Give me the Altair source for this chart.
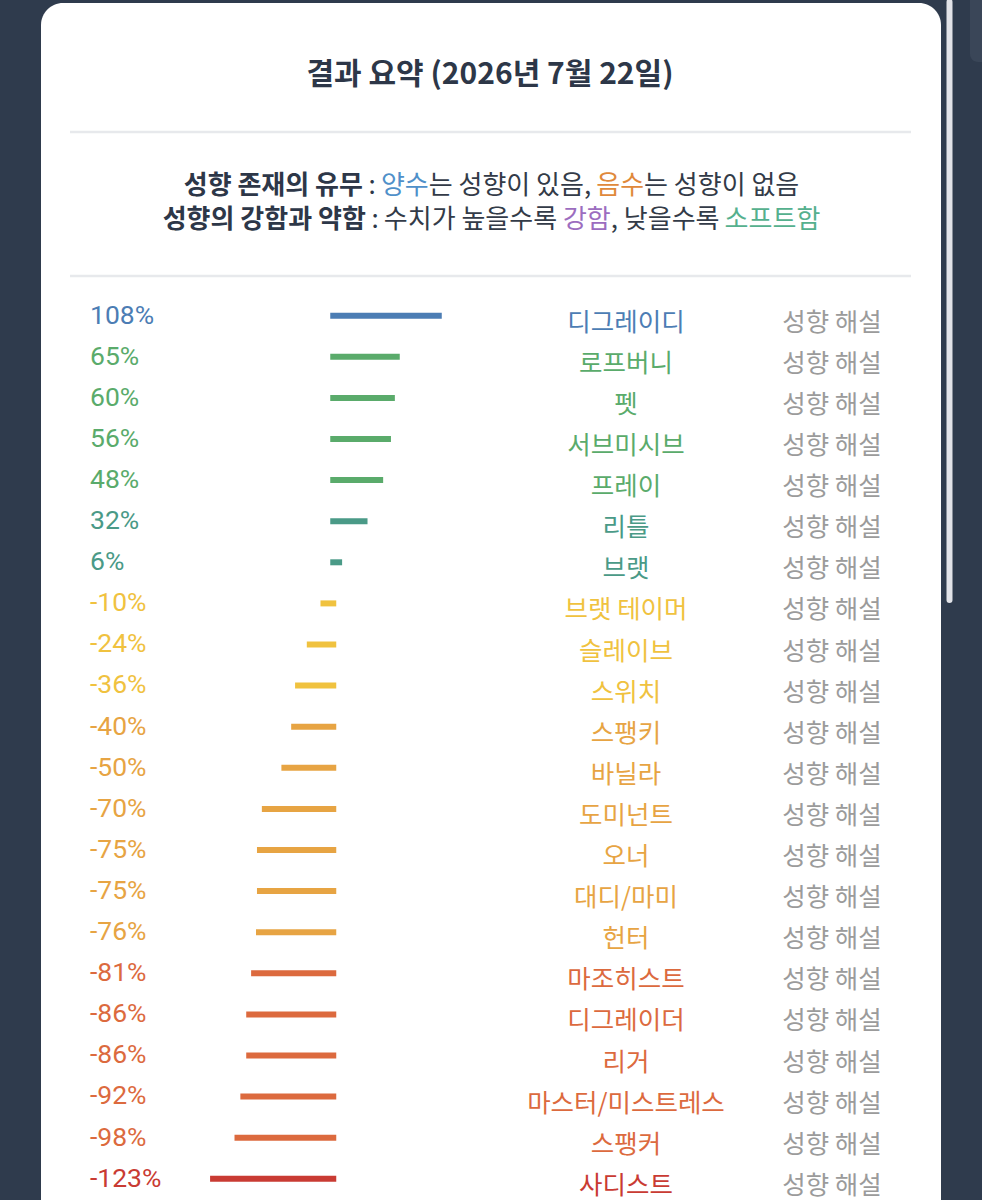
import altair as alt
import pandas as pd

# ---- data ----
names = ["디그레이디", "로프버니", "펫", "서브미시브", "프레이", "리틀", "브랫",
         "브랫 테이머", "슬레이브", "스위치", "스팽키", "바닐라", "도미넌트", "오너",
         "대디/마미", "헌터", "마조히스트", "디그레이더", "리거", "마스터/미스트레스",
         "스팽커", "사디스트"]
pcts = [108, 65, 60, 56, 48, 32, 6, -10, -24, -36, -40, -50, -70, -75, -75, -76,
        -81, -86, -86, -92, -98, -123]
title_text = "결과 요약 (2026년 7월 22일)"
detail_text = "성향 해설"

# ---- style ----
KR = "Noto Sans CJK KR"
BG = "#2f3b4d"
DARK = "#2d3748"
tier_breaks = [-100, -80, -38, 0, 40, 100]
tier_colors = ["#c93b33", "#dc6a3e", "#e7a443", "#f0c23f", "#4a9a87", "#5aab6b", "#4c7db4"]

df = pd.DataFrame({"name": names, "pct": pcts, "idx": list(range(len(names)))})

# row i centre at 315.7 + 41.1*i px
y0, step = 315.7, 41.1
yscale = alt.Scale(domain=[-y0 / step, (1200 - y0) / step], range=[0, 1200], nice=False, zero=False)
# zero at 333.25 px, 0.977 px per percent
zx, k = 333.25, 0.977
xscale = alt.Scale(domain=[-zx / k, (982 - zx) / k], nice=False, zero=False)
cscale = alt.Scale(type="threshold", domain=tier_breaks, range=tier_colors)

one = pd.DataFrame({"k": [0]})

card = alt.Chart(one).mark_rect(color="#ffffff", cornerRadius=22).encode(
    x=alt.value(41), x2=alt.value(941), y=alt.value(3), y2=alt.value(1260))
scroll = alt.Chart(one).mark_rule(color="#e2e3e8", strokeWidth=6, strokeCap="round").encode(
    x=alt.value(949.5), y=alt.value(2), y2=alt.value(600))
panel = alt.Chart(one).mark_rect(color="#3a4658", cornerRadius=8).encode(
    x=alt.value(970), x2=alt.value(990), y=alt.value(-10), y2=alt.value(62))

div1 = alt.Chart(one).mark_rule(color="#e7e9ec", strokeWidth=2.5).encode(
    x=alt.value(70), x2=alt.value(911), y=alt.value(132))
div2 = alt.Chart(one).mark_rule(color="#e7e9ec", strokeWidth=2.5).encode(
    x=alt.value(70), x2=alt.value(911), y=alt.value(276))

title = alt.Chart(pd.DataFrame({"t": [title_text]})).mark_text(
    font=KR, fontSize=30, fontWeight="bold", color=DARK, align="center", baseline="alphabetic"
).encode(text="t:N", x=alt.value(490), y=alt.value(84))


def tw(s, fs):
    w = 0.0
    for ch in s:
        if "\uac00" <= ch <= "\ud7a3":
            w += 0.92
        elif ch == " ":
            w += 0.224
        elif ch in ":,":
            w += 0.25
        elif ch == "/":
            w += 0.38
        else:
            w += 0.55
    return w * fs


def legend_line(segs, ybase, fs=26, cx=491.5):
    total = sum(tw(s, fs) for s, _, _ in segs)
    cur = cx - total / 2
    layers = []
    for s, bold, col in segs:
        lead = len(s) - len(s.lstrip(" "))
        x = cur + tw(" " * lead, fs)
        cur += tw(s, fs)
        layers.append(alt.Chart(pd.DataFrame({"t": [s.strip()]})).mark_text(
            font=KR, fontSize=fs, fontWeight="bold" if bold else "normal", color=col,
            align="left", baseline="alphabetic"
        ).encode(text="t:N", x=alt.value(x), y=alt.value(ybase)))
    return layers


line1 = legend_line([
    ("성향 존재의 유무", True, DARK),
    (" : ", False, DARK),
    ("양수", False, "#4f90c9"),
    ("는 성향이 있음, ", False, "#333b48"),
    ("음수", False, "#e0893b"),
    ("는 성향이 없음", False, "#333b48"),
], 194)
line2 = legend_line([
    ("성향의 강함과 약함", True, DARK),
    (" : ", False, DARK),
    ("수치가 높을수록 ", False, "#333b48"),
    ("강함", False, "#9c6dbf"),
    (", 낮을수록 ", False, "#333b48"),
    ("소프트함", False, "#55b08e"),
], 228)

base = alt.Chart(df)
ycol = alt.Y("idx:Q", scale=yscale, axis=None)
col = alt.Color("pct:Q", scale=cscale, legend=None)

bars = base.mark_rule(strokeWidth=6, strokeCap="square").encode(
    x=alt.X("pct:Q", scale=xscale, axis=None), x2=alt.datum(0), y=ycol, color=col)

pct_labels = base.transform_calculate(label="datum.pct + '%'").mark_text(
    font="Roboto", fontSize=26.5, align="left", baseline="alphabetic", dy=7.8
).encode(text="label:N", x=alt.value(90), y=ycol, color=col)

name_labels = base.mark_text(
    font=KR, fontSize=25.5, align="center", baseline="alphabetic", dy=15
).encode(text="name:N", x=alt.value(626), y=ycol, color=col)

detail = base.transform_calculate(d=f"'{detail_text}'").mark_text(
    font=KR, fontSize=25.5, align="center", baseline="alphabetic", dy=15, color="#9b9b9b"
).encode(text="d:N", x=alt.value(832), y=ycol)

chart = alt.layer(
    card, scroll, panel, div1, div2, title, *line1, *line2,
    bars, pct_labels, name_labels, detail
).properties(
    width=982, height=1200, padding=0,
    autosize=alt.AutoSizeParams(type="none"),
    background=BG,
).configure_view(stroke=None)

chart.save("out.html", embed_options={"renderer": "svg", "actions": False})
